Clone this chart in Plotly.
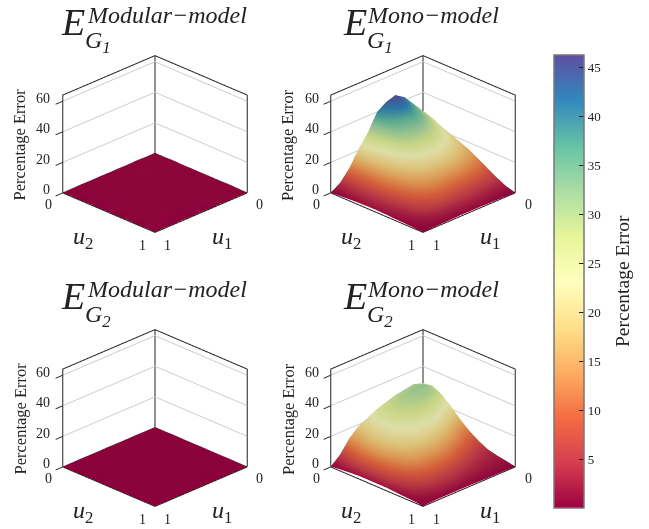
import plotly.graph_objects as go

W, H = 649, 529
U_TICKS = [0.0, 0.1, 0.2, 0.3, 0.4, 0.5, 0.6, 0.7, 0.8, 0.9, 1.0]
Z_MAX = 64
Z_TICKS = [0, 20, 40, 60]
CB_TICKS = [5, 10, 15, 20, 25, 30, 35, 40, 45]
C_MIN, C_MAX = 0.07, 46.3

# rows: u1, columns: u2
mod_g1 = [
 [0.5,0.4,0.6,0.4,0.5,0.4,0.5,0.4,0.6,0.4,0.3],
 [0.4,0.5,0.4,0.6,0.4,0.5,0.4,0.5,0.4,0.5,0.4],
 [0.6,0.4,0.5,0.4,0.6,0.4,0.5,0.4,0.5,0.4,0.3],
 [0.4,0.5,0.7,0.5,0.4,0.6,0.4,0.5,0.4,0.6,0.4],
 [0.5,0.4,0.5,0.4,0.5,0.4,0.7,0.4,0.5,0.4,0.3],
 [0.4,0.6,0.4,0.5,0.4,0.5,0.4,0.6,0.4,0.5,0.4],
 [0.5,0.4,0.5,0.4,0.6,0.4,0.5,0.4,0.5,0.4,0.3],
 [0.4,0.5,0.4,0.6,0.4,0.5,0.4,0.5,0.7,0.4,0.4],
 [0.5,0.4,0.6,0.4,0.5,0.4,0.5,0.4,0.5,0.4,0.3],
 [0.4,0.5,0.4,0.5,0.4,0.6,0.4,0.5,0.4,0.5,0.4],
 [0.3,0.4,0.3,0.4,0.3,0.4,0.3,0.4,0.3,0.4,0.3],
]
mod_g2 = [
 [0.3,0.3,0.4,0.3,0.3,0.4,0.3,0.3,0.4,0.3,0.3],
 [0.3,0.4,0.3,0.3,0.4,0.3,0.3,0.4,0.3,0.3,0.3],
 [0.4,0.3,0.3,0.4,0.3,0.3,0.4,0.3,0.3,0.4,0.3],
 [0.3,0.3,0.4,0.3,0.3,0.4,0.3,0.3,0.4,0.3,0.3],
 [0.3,0.4,0.3,0.3,0.4,0.3,0.3,0.4,0.3,0.3,0.3],
 [0.4,0.3,0.3,0.4,0.3,0.3,0.4,0.3,0.3,0.4,0.3],
 [0.3,0.3,0.4,0.3,0.3,0.4,0.3,0.3,0.4,0.3,0.3],
 [0.3,0.4,0.3,0.3,0.4,0.3,0.3,0.4,0.3,0.3,0.3],
 [0.4,0.3,0.3,0.4,0.3,0.3,0.4,0.3,0.3,0.4,0.3],
 [0.3,0.3,0.4,0.3,0.3,0.4,0.3,0.3,0.4,0.3,0.3],
 [0.3,0.3,0.3,0.3,0.3,0.3,0.3,0.3,0.3,0.3,0.3],
]
mono_g1 = [
 [28,26,23,20.5,18,15.5,12,8.5,5,2,.3],
 [35,32,29,25,21.5,18,14,10,6,2.5,.4],
 [42,38,34,29,25,20.5,16,11,6.5,3,.5],
 [46,43,37,32,27,22,17,12,7,3.2,.6],
 [44,41,36,32,27,22.5,17.5,12,7.5,3.5,.7],
 [40,37,34,30,26,22,17,12.5,8,3.5,.7],
 [29,28,26,24,22,19,15.5,12,8,3.5,.7],
 [21,20,19.5,18,17,15,13,10,7,3.2,.6],
 [11,11,11,11,10.5,9.5,8.5,7,5,2.4,.5],
 [4,4.5,5,5,5,4.5,4,3.2,2.4,1.4,.4],
 [.3,.6,1,1.3,1.5,1.5,1.3,1,.8,.5,.3],
]
mono_g2 = [
 [29,30,27,22,16,11,7,4,2.5,1.5,.3],
 [31,33,30,25,19,13,8.5,5,3,1.7,.4],
 [30,32,31,27,22,16,11,6.5,3.5,2,.5],
 [29,31,30,28,24,19,13,8,4.5,2.2,.5],
 [27,29,29,27,24,20,15,10,5.5,2.5,.6],
 [25,27,27,26,24,21,16,11,6.5,3,.7],
 [22,24,24,24,22,20,16,11,7,3.5,.7],
 [19,20,21,21,20,18,15,11,7,3.5,.7],
 [13.5,14.5,16,16,16,14,12,9,6,3,.7],
 [5.5,7,8.5,9,9,8,7,5.5,4,2,.6],
 [.3,1,1.5,2,2,2,2,1.5,1.2,.8,.3],
]
panels = [
 dict(z=mod_g1, sup="Modular\u2212model", sub="G<sub>1</sub>", cx=154.5, cy=144, ex=59, sx=85, gx=83),
 dict(z=mono_g1, sup="Mono\u2212model", sub="G<sub>1</sub>", cx=423, cy=144, ex=341, sx=365, gx=365),
 dict(z=mod_g2, sup="Modular\u2212model", sub="G<sub>2</sub>", cx=154.5, cy=418, ex=59, sx=85, gx=83),
 dict(z=mono_g2, sup="Mono\u2212model", sub="G<sub>2</sub>", cx=423, cy=418, ex=341, sx=365, gx=365),
]
SPECTRAL = ["rgb(158,1,66)","rgb(213,62,79)","rgb(244,109,67)","rgb(253,174,97)","rgb(254,224,139)",
            "rgb(255,255,191)","rgb(230,245,152)","rgb(171,221,164)","rgb(102,194,165)","rgb(50,136,189)","rgb(94,79,162)"]
FONT = "Liberation Serif"
TXT = "#222222"
fig = go.Figure()
DW, DH = 270, 220
annotations = []
TICKFONT = dict(family=FONT, size=14, color=TXT)

def ann(x, y, text, size, angle=0, xa="left", ya="middle"):
    annotations.append(dict(x=x/W, y=1-y/H, xref="paper", yref="paper", text=text, showarrow=False,
        font=dict(family=FONT, size=size, color=TXT), xanchor=xa, yanchor=ya, textangle=angle))

def tick_label(x, y, z, text, xs, ys, xa="center"):
    return dict(x=x, y=y, z=z, text=str(text), showarrow=False, xshift=xs, yshift=ys, xanchor=xa, yanchor="middle",
                font=TICKFONT)

for i, p in enumerate(panels):
    sid = "scene" if i == 0 else f"scene{i+1}"
    z_by_u2 = [list(col) for col in zip(*p["z"])]
    fig.add_trace(go.Surface(x=U_TICKS, y=U_TICKS, z=z_by_u2, coloraxis="coloraxis", scene=sid, hoverinfo="skip",
        lighting=dict(ambient=0.87, diffuse=0, specular=0, roughness=1, fresnel=0)))
    box_x = [1,1,0,0,0, None, 0,0, None, 1,1,0]
    box_y = [0,0,0,1,1, None, 0,0, None, 0,1,1]
    box_z = [0,Z_MAX,Z_MAX,Z_MAX,0, None, 0,Z_MAX, None, 0,0,0]
    fig.add_trace(go.Scatter3d(x=box_x, y=box_y, z=box_z, mode="lines", scene=sid, hoverinfo="skip",
        line=dict(color="#222222", width=2), showlegend=False))
    noax = dict(showgrid=False, zeroline=False, showbackground=False, showline=False, title="", range=[0,1],
                tickvals=[0,1], ticks="", showticklabels=False, showspikes=False)
    labels = [tick_label(1, 0, v, v, -10, 3, "right") for v in Z_TICKS]
    labels += [tick_label(1, 0, 0, 0, -14, -12), tick_label(1, 1, 0, 1, -12, -13),
               tick_label(1, 1, 0, 1, 13, -13), tick_label(0, 1, 0, 0, 13, -12)]
    scene = dict(
        domain=dict(x=[(p["cx"]-DW/2)/W, (p["cx"]+DW/2)/W], y=[1-(p["cy"]+DH/2)/H, 1-(p["cy"]-DH/2)/H]),
        xaxis=noax, yaxis=noax,
        zaxis=dict(range=[0,Z_MAX], tickvals=Z_TICKS, showgrid=True, gridcolor="#cccccc", gridwidth=2, zeroline=False,
                   showbackground=False, showline=False, ticks="outside", ticklen=6, tickwidth=2, tickcolor="#222222", title="",
                   showticklabels=False, showspikes=False),
        aspectmode="manual", aspectratio=dict(x=1.186,y=1.186,z=0.984),
        camera=dict(eye=dict(x=1.25,y=1.25,z=0.837), up=dict(x=0,y=0,z=1), center=dict(x=0,y=0,z=0),
                    projection=dict(type="orthographic")),
        annotations=labels,
    )
    fig.layout[sid] = scene
    cx, cy = p["cx"], p["cy"]
    ann(p["ex"], cy-122, "<i>E</i>", 38)
    ann(p["sx"], cy-129, f"<i>{p['sup']}</i>", 24)
    ann(p["gx"], cy-102, f"<i>{p['sub']}</i>", 24)
    ann(cx-135, cy+1, "Percentage Error", 16.5, angle=-90, xa="center")
    ann(cx-72, cy+94, "<i>u</i><sub>2</sub>", 24, xa="center")
    ann(cx+67, cy+94, "<i>u</i><sub>1</sub>", 24, xa="center")
ann(622, 281, "Percentage Error", 19.5, angle=-90, xa="center")

fig.update_layout(
    width=W, height=H, margin=dict(l=0,r=0,t=0,b=0), paper_bgcolor="white",
    coloraxis=dict(colorscale=SPECTRAL, cmin=C_MIN, cmax=C_MAX, colorbar=dict(
        x=554/W, xanchor="left", y=1-55/H, yanchor="top", len=453/H, lenmode="fraction", thickness=30, thicknessmode="pixels",
        outlinecolor="#777777", outlinewidth=1.5, ticks="inside", ticklen=5, tickcolor="#222222", tickvals=CB_TICKS,
        tickfont=dict(family=FONT, size=13, color=TXT), xpad=0, ypad=0)),
    annotations=annotations,
)
fig.write_html("out.html", post_script="document.body.style.margin='0';", config=dict(displayModeBar=False))
